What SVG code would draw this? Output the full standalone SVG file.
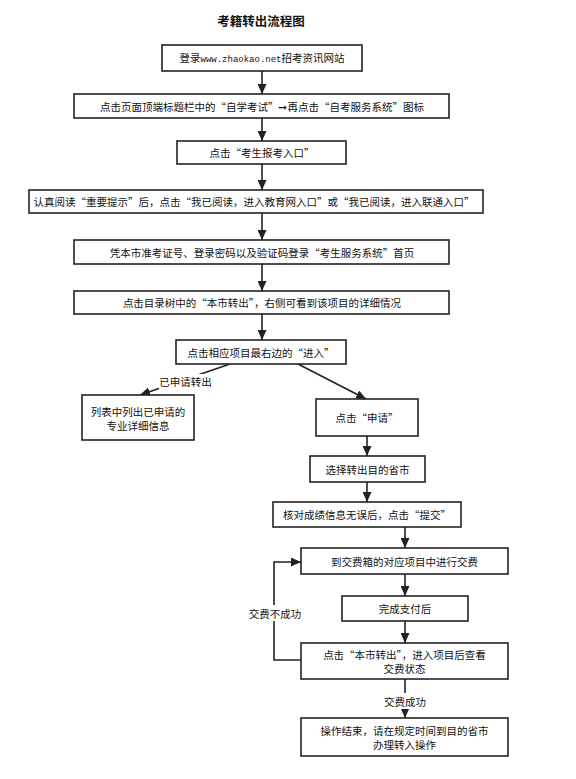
<svg xmlns="http://www.w3.org/2000/svg" width="576" height="779" viewBox="0 0 576 779">
<style>
.box{fill:#fff;stroke:#222;stroke-width:1.6}
.t{font-family:"Noto Sans CJK SC","Noto Sans",sans-serif;font-size:10.5px;fill:#111;text-anchor:middle;dominant-baseline:central}
.tb{font-family:"Noto Sans CJK SC","Noto Sans",sans-serif;font-size:10.5px;fill:#111;text-anchor:middle}
.title{font-family:"Noto Sans CJK SC",sans-serif;font-size:12.5px;font-weight:bold;fill:#111;text-anchor:middle;dominant-baseline:central}
.c{fill:none;stroke:#222;stroke-width:1.6}
.lbg{fill:#fff}
.m{font-family:"Liberation Mono",monospace;font-size:9px}
</style>
<defs>
<marker id="ah" markerUnits="userSpaceOnUse" markerWidth="10" markerHeight="9" refX="10" refY="4.5" orient="auto">
<path d="M0,0 L10,4.5 L0,9 z" fill="#222"/>
</marker>
</defs>
<rect width="576" height="779" fill="#fff"/>
<text class="title" x="261" y="20">考籍转出流程图</text>

<g id="connectors">
<line class="c" x1="262" y1="71" x2="262" y2="94" marker-end="url(#ah)"/>
<line class="c" x1="262" y1="118" x2="262" y2="141" marker-end="url(#ah)"/>
<line class="c" x1="262" y1="164" x2="262" y2="190" marker-end="url(#ah)"/>
<line class="c" x1="262" y1="213" x2="262" y2="240" marker-end="url(#ah)"/>
<line class="c" x1="262" y1="264" x2="262" y2="291" marker-end="url(#ah)"/>
<line class="c" x1="262" y1="314" x2="262" y2="340" marker-end="url(#ah)"/>
<line class="c" x1="230" y1="364" x2="140" y2="395" marker-end="url(#ah)"/>
<line class="c" x1="298" y1="364" x2="366" y2="399" marker-end="url(#ah)"/>
<line class="c" x1="367" y1="436" x2="367" y2="456" marker-end="url(#ah)"/>
<line class="c" x1="367" y1="482" x2="367" y2="502" marker-end="url(#ah)"/>
<line class="c" x1="405" y1="527" x2="405" y2="548" marker-end="url(#ah)"/>
<line class="c" x1="405" y1="574" x2="405" y2="596" marker-end="url(#ah)"/>
<line class="c" x1="405" y1="621" x2="405" y2="643" marker-end="url(#ah)"/>
<line class="c" x1="405" y1="679" x2="405" y2="718" marker-end="url(#ah)"/>
<polyline class="c" points="301,660 274,660 274,562 301,562" marker-end="url(#ah)"/>
<rect class="lbg" x="159" y="374" width="53" height="15"/>
<text class="t" x="185.5" y="381.5">已申请转出</text>
<rect class="lbg" x="247" y="605" width="56" height="16"/>
<text class="t" x="275" y="613">交费不成功</text>
<rect class="lbg" x="382" y="693" width="46" height="16"/>
<text class="t" x="405" y="701">交费成功</text>
</g>

<g id="n1"><rect class="box" x="162" y="45" width="200" height="26"/><text class="tb" x="262" y="62">登录<tspan class="m">www.zhaokao.net</tspan>招考资讯网站</text></g>
<g id="n2"><rect class="box" x="74" y="94" width="375" height="24"/><text class="t" x="262" y="106">点击页面顶端标题栏中的“自学考试”➞再点击“自考服务系统”图标</text></g>
<g id="n3"><rect class="box" x="177" y="141" width="169" height="23"/><text class="t" x="262" y="152.5">点击“考生报考入口”</text></g>
<g id="n4"><rect class="box" x="29" y="190" width="454" height="23"/><text class="t" x="254" y="201.5">认真阅读“重要提示”后，点击“我已阅读，进入教育网入口”或“我已阅读，进入联通入口”</text></g>
<g id="n5"><rect class="box" x="74" y="240" width="375" height="24"/><text class="t" x="262" y="252">凭本市准考证号、登录密码以及验证码登录“考生服务系统”首页</text></g>
<g id="n6"><rect class="box" x="74" y="291" width="375" height="23"/><text class="t" x="262" y="302.5">点击目录树中的“本市转出”，右侧可看到该项目的详细情况</text></g>
<g id="n7"><rect class="box" x="176" y="340" width="170" height="24"/><text class="t" x="261" y="352">点击相应项目最右边的“进入”</text></g>
<g id="n8"><rect class="box" x="82" y="395" width="112" height="45"/><text class="t" x="138" y="411">列表中列出已申请的</text><text class="t" x="138" y="425">专业详细信息</text></g>
<g id="n9"><rect class="box" x="316" y="399" width="102" height="37"/><text class="t" x="367" y="417.5">点击“申请”</text></g>
<g id="n10"><rect class="box" x="310" y="456" width="115" height="26"/><text class="t" x="367.5" y="469">选择转出目的省市</text></g>
<g id="n11"><rect class="box" x="273" y="502" width="188" height="25"/><text class="t" x="367" y="514.5">核对成绩信息无误后，点击“提交”</text></g>
<g id="n12"><rect class="box" x="301" y="548" width="207" height="26"/><text class="t" x="404.5" y="561">到交费箱的对应项目中进行交费</text></g>
<g id="n13"><rect class="box" x="342" y="596" width="126" height="25"/><text class="t" x="405" y="608.5">完成支付后</text></g>
<g id="n14"><rect class="box" x="301" y="643" width="207" height="36"/><text class="t" x="404.5" y="654">点击“本市转出”，进入项目后查看</text><text class="t" x="404.5" y="668.5">交费状态</text></g>
<g id="n15"><rect class="box" x="301" y="718" width="207" height="38"/><text class="t" x="404.5" y="730">操作结束，请在规定时间到目的省市</text><text class="t" x="404.5" y="744.5">办理转入操作</text></g>
</svg>
